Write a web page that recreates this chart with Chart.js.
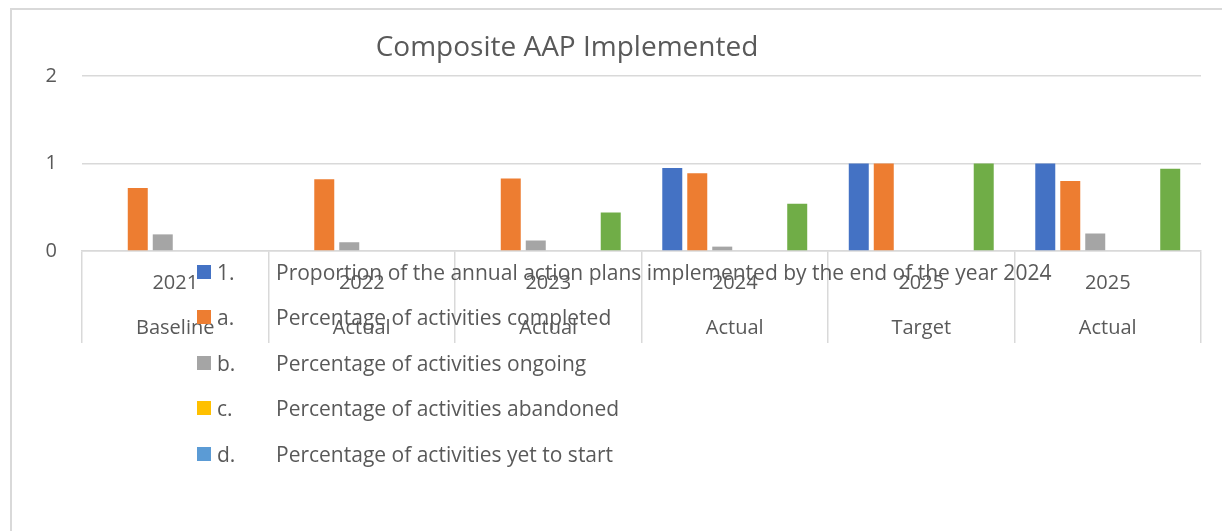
<!DOCTYPE html>
<html>
<head>
<meta charset="utf-8">
<script src="https://cdn.jsdelivr.net/npm/chart.js@4.4.1/dist/chart.umd.min.js"></script>
<style>
html, body { margin: 0; padding: 0; background: #fff; overflow: hidden; }
#wrap { position: relative; width: 1222px; height: 531px; }
#frame { position: absolute; left: 10px; top: 8px; width: 1300px; height: 600px;
  border-left: 2px solid #d9d9d9; border-top: 2px solid #d9d9d9; }
canvas { position: absolute; left: 0; top: 0; }
#title { position: absolute; left: 0; width: 1134px; top: 31px; line-height: 28px;
  text-align: center; font-family: "Open Sans"; font-size: 28px; color: #595959; }
#legend { position: absolute; left: 197px; top: 249px; font-family: "Open Sans";
  font-size: 21px; color: #595959; }
#legend .row { position: relative; height: 45.5px; display: flex; align-items: center; }
#legend .box { width: 14px; height: 14px; margin-right: 6px; }
#legend .code { position: absolute; left: 20px; }
#legend .name { position: absolute; left: 79px; white-space: nowrap; }
</style>
</head>
<body>
<div id="wrap">
  <div id="frame"></div>
  <canvas id="myChart" width="1222" height="531"></canvas>
  <div id="title">Composite AAP Implemented</div>
  <div id="legend"></div>
</div>
<script>
// categories (two-level axis)
var years = ['2021', '2022', '2023', '2024', '2025', '2025']
var stages = ['Baseline', 'Actual', 'Actual', 'Actual', 'Target', 'Actual']

var yTicks = [0, 1, 2]

// series
var seriesCodes = ['1.', 'a.', 'b.', 'c.', 'd.', 'e.']
var seriesNames = [
    'Proportion of the annual action plans implemented by the end of the year 2024',
    'Percentage of activities completed',
    'Percentage of activities ongoing',
    'Percentage of activities abandoned',
    'Percentage of activities yet to start',
    'Composite AAP implemented'
]
var proportionImplemented = [0, 0, 0, 0.95, 1, 1]
var completed = [0.72, 0.82, 0.83, 0.89, 1, 0.80]
var ongoing = [0.19, 0.10, 0.12, 0.05, 0, 0.20]
var abandoned = [0, 0, 0, 0, 0, 0]
var yetToStart = [0, 0, 0, 0, 0, 0]
var composite = [0, 0, 0.44, 0.54, 1, 0.94]

var colors = ['#4472C4', '#ED7D31', '#A5A5A5', '#FFC000', '#5B9BD5', '#70AD47']
var values = [proportionImplemented, completed, ongoing, abandoned, yetToStart, composite]

var labels = []
for (var i = 0; i < years.length; i++) {
    labels.push([years[i], stages[i]])
}

var datasets = []
for (var s = 0; s < values.length; s++) {
    datasets.push({
        label: seriesCodes[s] + ' ' + seriesNames[s],
        data: values[s],
        backgroundColor: colors[s],
        borderWidth: 0,
        categoryPercentage: 0.804,
        barPercentage: 0.8
    })
}

var textColor = '#595959'
var gridColor = '#d9d9d9'

const ctx = document.getElementById('myChart')

new Chart(ctx, {
    type: 'bar',
    data: { labels: labels, datasets: datasets },
    options: {
        responsive: false,
        animation: false,
        layout: { padding: { left: 12, right: 21, top: 76, bottom: 180 } },
        plugins: {
            legend: { display: false },
            title: { display: false },
            tooltip: { enabled: false }
        },
        scales: {
            x: {
                grid: {
                    offset: true,
                    drawOnChartArea: false,
                    tickLength: 92,
                    color: gridColor,
                    lineWidth: 1.5
                },
                border: { display: true, color: gridColor, width: 1.5 },
                ticks: {
                    color: textColor,
                    padding: -82.5,
                    maxRotation: 0,
                    autoSkip: false,
                    font: { family: 'Open Sans', size: 20, lineHeight: 2.25 }
                },
                afterFit: function (scale) { scale.height = 100 }
            },
            y: {
                min: 0,
                max: 2,
                afterBuildTicks: function (scale) {
                    scale.ticks = yTicks.map(function (v) { return { value: v } })
                },
                grid: { color: gridColor, lineWidth: 1.5, drawTicks: false },
                border: { display: false },
                ticks: {
                    color: textColor,
                    padding: 25,
                    font: { family: 'Open Sans', size: 20 }
                },
                afterFit: function (scale) { scale.width = 70 }
            }
        }
    }
})

// legend (first five series, as in the original)
var legend = document.getElementById('legend')
for (var k = 0; k < 5; k++) {
    var row = document.createElement('div')
    row.className = 'row'
    row.innerHTML = '<span class="box" style="background:' + colors[k] + '"></span>' +
        '<span class="code">' + seriesCodes[k] + '</span>' +
        '<span class="name">' + seriesNames[k] + '</span>'
    legend.appendChild(row)
}
</script>
</body>
</html>
